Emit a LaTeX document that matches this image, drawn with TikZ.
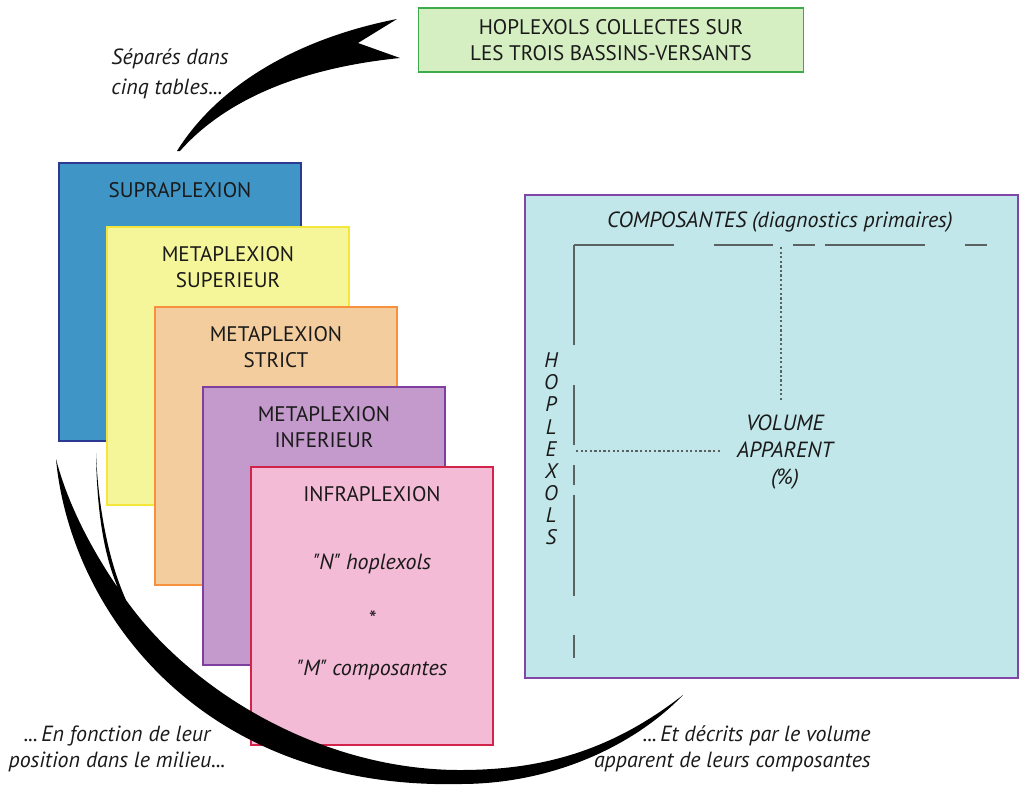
\documentclass[tikz,border=0pt]{standalone}
\usepackage{fontspec}
\newfontfamily\ptsans{PT Sans}
\usetikzlibrary{positioning}
\definecolor{supraFill}{HTML}{3F95C5}
\definecolor{supraLine}{HTML}{2B3990}
\definecolor{supFill}{HTML}{F5F59A}
\definecolor{supLine}{HTML}{F4E63A}
\definecolor{strFill}{HTML}{F3CD9E}
\definecolor{strLine}{HTML}{F7913D}
\definecolor{infFill}{HTML}{C39ACB}
\definecolor{infLine}{HTML}{7E3F9E}
\definecolor{infraFill}{HTML}{F3BBD6}
\definecolor{infraLine}{HTML}{D2234A}
\definecolor{gridFill}{HTML}{C2E7EA}
\definecolor{gridLine}{HTML}{8247A6}
\definecolor{hopFill}{HTML}{D5EEC2}
\definecolor{hopLine}{HTML}{3DAA4B}
\definecolor{axisgray}{HTML}{5A6262}
\definecolor{ink}{HTML}{1A1A1A}

\begin{document}
\begin{tikzpicture}[x=0.02cm, y=-0.02cm, font=\ptsans\fontsize{12}{14.7}\selectfont, text=ink,
    tbl/.style={draw, line width=0.9pt, minimum width=4.84cm, minimum height=5.56cm,
      inner sep=0pt, outer sep=0pt, anchor=north west},
    ttl/.style={align=center, anchor=north, inner sep=0pt},
    note/.style={font=\ptsans\itshape\fontsize{12.5}{14.7}\selectfont, inner sep=0pt},
    axis/.style={draw=axisgray, line width=1.1pt},
    guide/.style={draw=axisgray, line width=1pt, dash pattern=on 1.3pt off 1.3pt}]
  \useasboundingbox (0,0) rectangle (1021,785);
  % collected hoplexols
  \node[draw=hopLine, fill=hopFill, line width=0.9pt, minimum width=7.7cm, minimum height=1.28cm,
    align=center, inner sep=0pt] (hoplex) at (611,40) {HOPLEXOLS COLLECTES SUR\\LES TROIS BASSINS-VERSANTS};
  \node[note, align=left, font=\ptsans\itshape\fontsize{12.5}{17}\selectfont] (sep) at (170,74) {Séparés dans\\cinq tables...};
  \fill (177,151) .. controls (215,90) and (290,40) .. (397,19) -- (358,43) -- (400,58)
    .. controls (300,68) and (225,100) .. (180,151) -- cycle;
  % five stacked tables
  \foreach \n/\x/\y/\f/\d/\t in {supra/59/163/supraFill/supraLine/SUPRAPLEXION,
      metasup/107/227/supFill/supLine/METAPLEXION\\SUPERIEUR,
      metastr/155/307/strFill/strLine/METAPLEXION\\STRICT,
      metainf/203/387/infFill/infLine/METAPLEXION\\INFERIEUR,
      infra/251/467/infraFill/infraLine/INFRAPLEXION} {
    \node[tbl, fill=\f, draw=\d] (\n) at (\x,\y) {};
    \node[ttl] (\n-t) at ([yshift=-0.38cm]\n.north) {\t};
  }
  \node[note] (nhop) at (372,564) {"N" hoplexols};
  \node[note] (star) at (372,619) {*};
  \node[note] (mcomp) at (372,670) {"M" composantes};
  % sweep round the tables
  \fill (56,459) .. controls (70,610) and (200,790) .. (460,784)
    .. controls (560,784) and (640,740) .. (683,695)
    .. controls (610,752) and (540,770) .. (460,770)
    .. controls (320,770) and (190,690) .. (126,600)
    .. controls (108,560) and (98,505) .. (96,453)
    .. controls (97,520) and (106,560) .. (118,588)
    .. controls (92,550) and (68,505) .. cycle;
  \node[note, align=center] (pos) at (117,749) {...\,En fonction de leur\\position dans le milieu...};
  \node[note, align=right, anchor=east] (desc) at (871,749) {...\,Et décrits par le volume\\apparent de leurs composantes};
  % table of apparent volumes
  \node[tbl, fill=gridFill, draw=gridLine, minimum width=9.86cm, minimum height=9.66cm] (grid) at (525,195) {};
  \node[note] (comp) at (780,222) {COMPOSANTES (diagnostics primaires)};
  \node[note, align=center, font=\ptsans\itshape\fontsize{12}{12.6}\selectfont] (hopl) at (551,449) {H\\O\\P\\L\\E\\X\\O\\L\\S};
  \node[note, align=center, font=\ptsans\itshape\fontsize{12.5}{15.3}\selectfont] (vol) at (785,452) {VOLUME\\APPARENT\\(\%)};
  \coordinate (orig) at (574,245);
  \draw[axis] (orig) -- (674,245) (714,245) -- (773,245) (793,245) -- (815,245)
    (825,245) -- (925,245) (965,245) -- (987,245);
  \draw[axis] (orig) -- (574,345) (574,385) -- (574,445) (574,465) -- (574,485)
    (574,495) -- (574,596) (574,635) -- (574,658);
  \coordinate (vtop) at (781,247);
  \coordinate (vbot) at (781,400);
  \coordinate (hleft) at (576,451);
  \coordinate (hright) at (722,451);
  \draw[guide] (vtop) -- (vbot);
  \draw[guide] (hleft) -- (hright);
\end{tikzpicture}
\end{document}
